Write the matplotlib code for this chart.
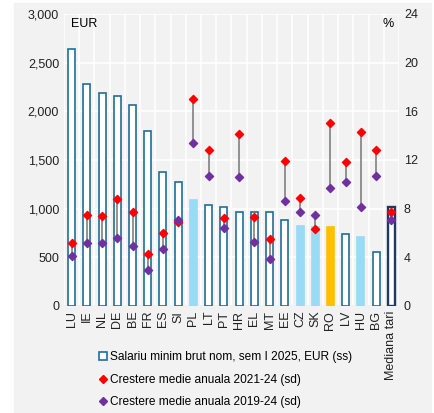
import numpy as np
import matplotlib.pyplot as plt
from matplotlib.patches import Rectangle
from matplotlib.lines import Line2D
from matplotlib.ticker import FuncFormatter, MultipleLocator

plt.rcParams["font.family"] = ["Liberation Sans", "DejaVu Sans"]

countries = ["LU", "IE", "NL", "DE", "BE", "FR", "ES", "SI", "PL", "LT", "PT",
             "HR", "EL", "MT", "EE", "CZ", "SK", "RO", "LV", "HU", "BG", "Mediana tari"]
salary = [2638, 2282, 2193, 2161, 2070, 1802, 1381, 1278, 1091, 1038, 1015,
          970, 968, 961, 886, 826, 816, 814, 740, 707, 551, 1015]
growth_2124 = [5.2, 7.5, 7.4, 8.8, 7.7, 4.3, 6.0, 6.9, 17.0, 12.8, 7.2,
               14.1, 7.3, 5.5, 11.9, 8.9, 6.3, 15.0, 11.8, 14.3, 12.8, 7.7]
growth_1924 = [4.1, 5.2, 5.2, 5.6, 4.9, 3.0, 4.7, 7.1, 13.4, 10.7, 6.4,
               10.6, 5.3, 3.9, 8.6, 7.7, 7.5, 9.7, 10.2, 8.1, 10.7, 7.1]

outline = "#1f6f96"
face = []
edge = []
for c in countries:
    if c in ("PL", "CZ", "SK", "HU"):
        face.append("#99dbf5"); edge.append("#99dbf5")
    elif c == "RO":
        face.append("#ffc000"); edge.append("#ffc000")
    elif c == "Mediana tari":
        face.append("white"); edge.append("#1f3864")
    else:
        face.append("white"); edge.append(outline)

fig = plt.figure(figsize=(4.35, 4.13), dpi=100)
fig.patches.append(Rectangle((14 / 435, 0), 417 / 435, 410 / 413,
                             transform=fig.transFigure, color="#f2f2f2", zorder=-10))

ax = fig.add_axes([64 / 435, 1 - 306 / 413, 335 / 435, 292 / 413])
ax.set_facecolor("#f2f2f2")
x = np.arange(len(countries))
lws = [1.7 if c == "Mediana tari" else 1.2 for c in countries]
ax.bar(x, salary, width=0.46, color=face, edgecolor=edge, linewidth=lws, zorder=3)

ax.set_ylim(0, 3000)
ax.set_xlim(-0.5, len(countries) - 0.5)
ax.yaxis.set_major_locator(MultipleLocator(500))
ax.yaxis.set_major_formatter(FuncFormatter(lambda v, p: f"{int(v):,}"))
ax.set_xticks(x)
ax.set_xticklabels(countries, rotation=90, fontsize=9)
ax.set_xticks(np.arange(-0.5, len(countries), 1), minor=True)
ax.grid(True, which="major", axis="y", color="white", linewidth=1.2, zorder=0)
ax.grid(True, which="minor", axis="x", color="white", linewidth=1.2, zorder=0)
ax.tick_params(axis="both", which="both", length=0, labelsize=9, colors="#222222")
for s in ax.spines.values():
    s.set_visible(False)
ax.axhline(0, color="#bfbfbf", linewidth=1, zorder=2)
ax.text(0.02, 0.985, "EUR", transform=ax.transAxes, ha="left", va="top", fontsize=9)

ax2 = ax.twinx()
ax2.set_ylim(0, 24)
ax2.yaxis.set_major_locator(MultipleLocator(4))
ax2.tick_params(axis="y", length=0, labelsize=9, colors="#222222")
for s in ax2.spines.values():
    s.set_visible(False)
ax2.vlines(x, growth_1924, growth_2124, color="#808080", linewidth=1.2, zorder=3)
ax2.scatter(x, growth_2124, marker="D", s=17, color="red", zorder=4)
ax2.scatter(x, growth_1924, marker="D", s=17, color="#7030a0", zorder=4)
ax2.text(0.985, 0.985, "%", transform=ax.transAxes, ha="right", va="top", fontsize=9)

handles = [
    Line2D([], [], marker="s", linestyle="none", markersize=6,
           markerfacecolor="white", markeredgecolor=outline, markeredgewidth=1.2),
    Line2D([], [], marker="D", linestyle="none", markersize=4.5, color="red"),
    Line2D([], [], marker="D", linestyle="none", markersize=4.5, color="#7030a0"),
]
labels = ["Salariu minim brut nom, sem I 2025, EUR (ss)",
          "Crestere medie anuala 2021-24 (sd)",
          "Crestere medie anuala 2019-24 (sd)"]
fig.legend(handles, labels, loc="upper left", bbox_to_anchor=(93 / 435, 1 - 345 / 413),
           frameon=False, fontsize=8.6, handlelength=0.6, handletextpad=0.3,
           labelspacing=0.9, borderpad=0)

fig.savefig("out.png", dpi=100)
